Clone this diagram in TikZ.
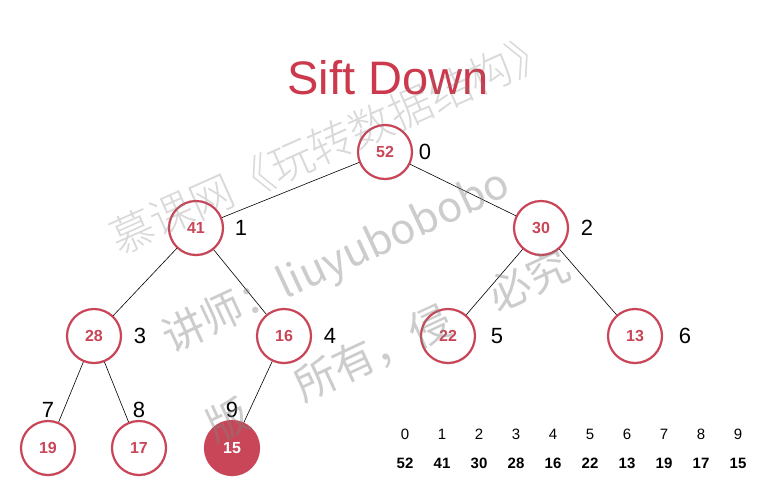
\documentclass[tikz,border=0pt]{standalone}
\usepackage{fontspec}
\setmainfont{Liberation Sans}
\newfontfamily\cjk{Noto Sans CJK SC}
\newfontfamily\cjklight{Noto Sans CJK SC Light}
\usetikzlibrary{positioning,shadows}
\definecolor{heapred}{RGB}{200,70,88}
\definecolor{titlered}{RGB}{204,56,76}

\begin{document}
\begin{tikzpicture}[x=1pt,y=-1pt,
  heap/.style={circle,draw=heapred,line width=2.2pt,fill=white,minimum size=54pt,inner sep=0pt,
    text=heapred,font=\fontsize{16}{16}\selectfont\bfseries,
    drop shadow={opacity=0.2,shadow xshift=0.6pt,shadow yshift=-1.4pt}},
  cur/.style={heap,fill=heapred,text=white},
  idx/.style={font=\fontsize{22}{22}\selectfont,inner sep=1pt},
  arridx/.style={font=\fontsize{15}{15}\selectfont},
  arrval/.style={font=\fontsize{15}{15}\selectfont\bfseries},
  edge/.style={draw,line width=0.6pt},
  wmark/.style={text=gray,opacity=0.4,rotate=25,font=\cjk\fontsize{42}{42}\selectfont}
]
\useasboundingbox (0,0) rectangle (774,496);

\node[font=\fontsize{47}{47}\selectfont,text=titlered] (title) at (388,78) {Sift Down};

% the heap
\node[heap] (n0) at (385,152) {52};
\node[heap] (n1) at (196,228) {41};
\node[heap] (n2) at (541,228) {30};
\node[heap] (n3) at (94,336) {28};
\node[heap] (n4) at (284,336) {16};
\node[heap] (n5) at (448,336) {22};
\node[heap] (n6) at (635,336) {13};
\node[heap] (n7) at (48,448) {19};
\node[heap] (n8) at (139,448) {17};
\node[cur] (n9) at (232,448) {15};

\draw[edge] (n0) -- (n1);
\draw[edge] (n0) -- (n2);
\draw[edge] (n1) -- (n3);
\draw[edge] (n1) -- (n4);
\draw[edge] (n2) -- (n5);
\draw[edge] (n2) -- (n6);
\draw[edge] (n3) -- (n7);
\draw[edge] (n3) -- (n8);
\draw[edge] (n4) -- (n9);

% indices
\node[idx] (i0) at (425,152) {0};
\node[idx] (i1) at (241,228) {1};
\node[idx] (i2) at (587,228) {2};
\node[idx] (i3) at (140,336) {3};
\node[idx] (i4) at (330,336) {4};
\node[idx] (i5) at (497,336) {5};
\node[idx] (i6) at (685,336) {6};
\node[idx,above=1pt of n7] (i7) {7};
\node[idx,above=1pt of n8] (i8) {8};
\node[idx,above=1pt of n9] (i9) {9};

% array
\foreach \v [count=\i from 0] in {52,41,30,28,16,22,13,19,17,15} {
  \node[arridx] (a\i) at ({405+37*\i},434) {\i};
  \node[arrval] (v\i) at ({405+37*\i},463) {\v};
}

% watermark
\node[wmark,rotate=-1,opacity=0.3,font=\cjklight\fontsize{43.5}{43.5}\selectfont] (w1) at (331,143) {慕课网《玩转数据结构》};
\node[wmark] (w2) at (337,262) {讲师：liuyubobobo};
\node[wmark] (w3) at (388,346) {版\hspace{1.3em}所有，侵\hspace{1.1em}必究};
\end{tikzpicture}
\end{document}
